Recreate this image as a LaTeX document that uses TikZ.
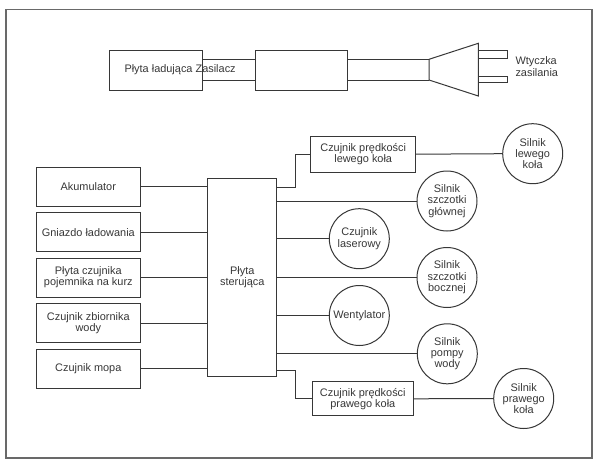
\documentclass[tikz,border=0pt]{standalone}
\usepackage{fontspec}
\setmainfont{Liberation Sans}
\usepackage{tikz}
\usetikzlibrary{positioning,shapes,fit,arrows}
\tikzset{every picture/.style={line width=0.75pt}}
\definecolor{linia}{RGB}{55,55,55}
\definecolor{ramka}{RGB}{105,105,105}
\tikzset{
  blok/.style={draw=linia, rectangle, align=center, inner sep=0.75pt, text=linia},
  kolo/.style={draw=linia, circle, minimum size=45pt, inner sep=0pt, align=center, text=linia},
  opis/.style={inner sep=0.75pt, text=linia}
}

\begin{document}
\begin{tikzpicture}[x=0.75pt,y=0.75pt,yscale=-1,xscale=1,font=\fontsize{8.2}{8.5}\selectfont]
\path[use as bounding box] (0,0) rectangle (595,460);

%Shape: Rectangle [ramka]
\draw[ramka, line width=1.1pt] (6,9.3) rectangle (592,458);

%Shape: Rectangle [plyta ladujaca]
\node[blok, minimum width=69.5pt, minimum height=29.8pt] (plytalad) at (156.3,70.8) {};
%Shape: Rectangle [zasilacz]
\node[blok, minimum width=68.7pt, minimum height=29.8pt] (zasilacz) at (301.5,70.8) {};
% Text Node
\node[opis, anchor=west] (plytaladtxt) at (123,69.3) {Płyta ładująca Zasilacz};

%Straight Lines [kabel]
\coordinate (wt1) at (429,59.3);
\coordinate (wt2) at (429,80);
\draw[linia] (plytalad.east |- wt1) -- (zasilacz.west |- wt1);
\draw[linia] (plytalad.east |- wt2) -- (zasilacz.west |- wt2);
\draw[linia] (zasilacz.east |- wt1) -- (wt1);
\draw[linia] (zasilacz.east |- wt2) -- (wt2);
%Shape: Trapezoid [wtyczka]
\draw[linia] (wt1) -- (478.3,43.3) -- (478.3,96) -- (wt2) -- cycle;
%Shape: Rectangle [bolce]
\draw[linia] (478.3,51) rectangle (507.3,58.3);
\draw[linia] (478.3,76.7) rectangle (507.3,82.7);
% Text Node
\node[opis, anchor=west, align=left] (wtyczka) at (514,66.7) {Wtyczka\\zasilania};

%Shape: Rectangle [lewa kolumna]
\node[blok, minimum width=77.6pt, minimum height=29.25pt] (akumulator) at (88.3,186.5) {Akumulator};
\node[blok, minimum width=77.6pt, minimum height=29.25pt] (gniazdo) at (88.3,232.3) {Gniazdo ładowania};
\node[blok, minimum width=77.6pt, minimum height=29.25pt] (czkurz) at (88.3,277.5) {Płyta czujnika\\pojemnika na kurz};
\node[blok, minimum width=77.6pt, minimum height=29.25pt] (czwoda) at (88.3,323) {Czujnik zbiornika\\wody};
\node[blok, minimum width=77.6pt, minimum height=29.25pt] (czmop) at (88.3,368.5) {Czujnik mopa};

%Shape: Rectangle [plyta sterujaca]
\node[blok, minimum width=52pt, minimum height=148.5pt] (plytaster) at (242.3,277) {Płyta\\sterująca};

%Straight Lines [wejscia]
\draw[linia] (akumulator.east) -- (akumulator.east -| plytaster.west);
\draw[linia] (gniazdo.east) -- (gniazdo.east -| plytaster.west);
\draw[linia] (czkurz.east) -- (czkurz.east -| plytaster.west);
\draw[linia] (czwoda.east) -- (czwoda.east -| plytaster.west);
\draw[linia] (czmop.east) -- (czmop.east -| plytaster.west);

%Shape: Rectangle [czujniki predkosci]
\node[blok, minimum width=78.7pt, minimum height=27.2pt] (czlewy) at (363.2,154.2) {Czujnik prędkości\\lewego koła};
\node[blok, minimum width=75.8pt, minimum height=25.7pt] (czprawy) at (362.8,398.8) {Czujnik prędkości\\prawego koła};

%Shape: Circle [silniki]
\node[kolo] (sllewy) at (532.7,153.7) {Silnik\\lewego\\koła};
\node[kolo] (slglowna) at (447,201) {Silnik\\szczotki\\głównej};
\node[kolo] (laser) at (359.3,238.7) {Czujnik\\laserowy};
\node[kolo] (slboczna) at (447,277.5) {Silnik\\szczotki\\bocznej};
\node[kolo] (wentylator) at (359.3,315.5) {Wentylator};
\node[kolo] (pompa) at (447.3,353.8) {Silnik\\pompy\\wody};
\node[kolo] (slprawy) at (523.7,398.5) {Silnik\\prawego\\koła};

%Straight Lines [wyjscia]
\coordinate (jl) at (295,187.5);
\coordinate (jp) at (295,370.7);
\draw[linia] (jl -| plytaster.east) -- (jl) |- (czlewy.west);
\draw[linia] (czlewy.east) -- (sllewy.west);
\draw[linia] (slglowna.west -| plytaster.east) -- (slglowna.west);
\draw[linia] (laser.west -| plytaster.east) -- (laser.west);
\draw[linia] (slboczna.west -| plytaster.east) -- (slboczna.west);
\draw[linia] (wentylator.west -| plytaster.east) -- (wentylator.west);
\draw[linia] (pompa.west -| plytaster.east) -- (pompa.west);
\draw[linia] (jp -| plytaster.east) -- (jp) |- (czprawy.west);
\draw[linia] (czprawy.east) -- (slprawy.west);

\end{tikzpicture}
\end{document}
